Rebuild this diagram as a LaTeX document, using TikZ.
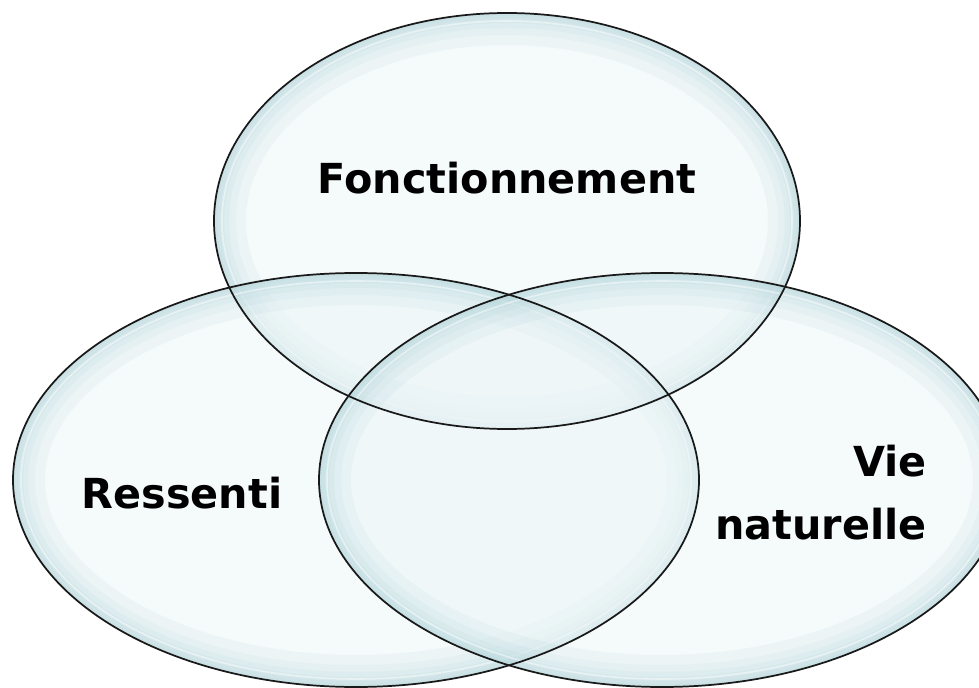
\documentclass[tikz,border=0pt]{standalone}
\usepackage{fontspec}
\setmainfont{DejaVu Sans}
\definecolor{lensin}{RGB}{236,245,247}
\definecolor{lensglow}{RGB}{150,198,205}

\begin{document}
\begin{tikzpicture}[
    x = 0.75pt,
    y = -0.75pt,
    lens/.style = {fill=lensin, fill opacity=0.55},
    glow/.style = {draw=lensglow, draw opacity=0.09},
    rim/.style = {draw=black!90, line width=1.3pt},
    label/.style = {font=\bfseries\fontsize{31}{47}\selectfont, inner sep=0pt},
    ]
    \useasboundingbox (0,0) rectangle (979,688);
    \clip (0,0) rectangle (979,688);
    % lenses
    \foreach \cx/\cy/\rx/\ry in {507/221/293/208, 356/480/343/207, 662/480/343/207}{
      \begin{scope}
        \clip (\cx,\cy) ellipse [x radius=\rx, y radius=\ry];
        \fill[lens] (\cx,\cy) ellipse [x radius=\rx, y radius=\ry];
        \foreach \w in {64, 44, 30, 20, 12, 6}
        \draw[glow, line width=\w*0.75pt] (\cx,\cy) ellipse [x radius=\rx, y radius=\ry];
        \draw[white, draw opacity=0.45, line width=1.2pt]
        (\cx,\cy) ellipse [x radius=\rx-8, y radius=\ry-8];
      \end{scope}
    }
    % outlines
    \foreach \cx/\cy/\rx/\ry in {507/221/293/208, 356/480/343/207, 662/480/343/207}
    \draw[rim] (\cx,\cy) ellipse [x radius=\rx, y radius=\ry];
    % labels
    \node[label, anchor=base] (fonct) at (507, 194) {Fonctionnement};
    \node[label, anchor=base] (ressenti) at (182, 508) {Ressenti};
    \node[label, anchor=north east, align=right] (vie) at (927, 445) {Vie\\naturelle};
  \end{tikzpicture}
\end{document}
